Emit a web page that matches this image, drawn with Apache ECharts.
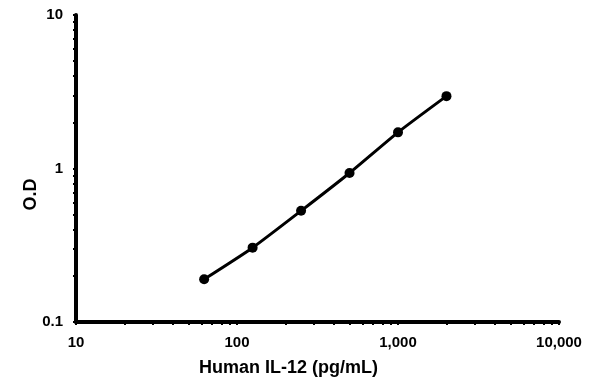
<!DOCTYPE html>
<html>
<head>
<meta charset="utf-8">
<script src="https://cdn.jsdelivr.net/npm/echarts@6/dist/echarts.min.js"></script>
<style>
	html, body { margin: 0; padding: 0; background: #fff; }
	#chart { width: 595px; height: 384px; }
</style>
</head>
<body>
<div id="chart"></div>
<script>
// 标准曲线数据
var concentrations = [62.5, 125, 250, 500, 1000, 2000];
var odValues = [0.19, 0.305, 0.53, 0.935, 1.72, 2.96];

var xLabelValues = [10, 100, 1000, 10000];
var yLabelValues = [0.1, 1, 10];
var xTickValues = [10, 20, 30, 40, 50, 60, 70, 80, 90, 100, 200, 300, 400, 500, 600, 700, 800, 900,
	1000, 2000, 3000, 4000, 5000, 6000, 7000, 8000, 9000, 10000];
var yTickValues = [0.1, 0.2, 0.3, 0.4, 0.5, 0.6, 0.7, 0.8, 0.9, 1, 2, 3, 4, 5, 6, 7, 8, 9, 10];

var myChart = echarts.init(document.getElementById("chart"));

var seriesData = [];
concentrations.forEach(function(c, i) {
	seriesData.push([c, odValues[i]]);
});

var labelFont = {
	fontFamily: 'Liberation Sans, Arial, sans-serif',
	fontWeight: 'bold',
	color: '#000'
};

var option = {
	animation: false,
	grid: {
		left: 76,
		right: 36,
		top: 15,
		bottom: 62
	},
	xAxis: {
		type: 'log',
		logBase: 10,
		min: 10,
		max: 10000,
		name: 'Human IL-12 (pg/mL)',
		nameLocation: 'middle',
		nameGap: 37,
		nameMoveOverlap: false,
		nameTextStyle: Object.assign({ fontSize: 18, padding: [0, 58, 0, 0] }, labelFont),
		axisLine: { lineStyle: { color: '#000', width: 4 } },
		axisTick: { show: true, length: 3, customValues: xTickValues, lineStyle: { color: '#000', width: 2 } },
		axisLabel: Object.assign({
			fontSize: 15,
			margin: 13,
			customValues: xLabelValues,
			formatter: function(v) { return Math.round(v).toLocaleString('en-US'); }
		}, labelFont),
		splitLine: { show: false }
	},
	yAxis: {
		type: 'log',
		logBase: 10,
		min: 0.1,
		max: 10,
		name: 'O.D',
		nameLocation: 'middle',
		nameGap: 36,
		nameRotate: 90,
		nameMoveOverlap: false,
		nameTextStyle: Object.assign({ fontSize: 18, padding: [0, 52, 0, 0] }, labelFont),
		axisLine: { lineStyle: { color: '#000', width: 4 } },
		axisTick: { show: true, length: 3, customValues: yTickValues, lineStyle: { color: '#000', width: 2 } },
		axisLabel: Object.assign({
			fontSize: 15,
			margin: 13,
			customValues: yLabelValues,
			formatter: function(v) { return String(v); }
		}, labelFont),
		splitLine: { show: false }
	},
	series: [{
		type: 'line',
		data: seriesData,
		smooth: 0.2,
		symbol: 'circle',
		symbolSize: 10,
		itemStyle: { color: '#000' },
		lineStyle: { color: '#000', width: 3 }
	}]
};

myChart.setOption(option);
</script>
</body>
</html>
